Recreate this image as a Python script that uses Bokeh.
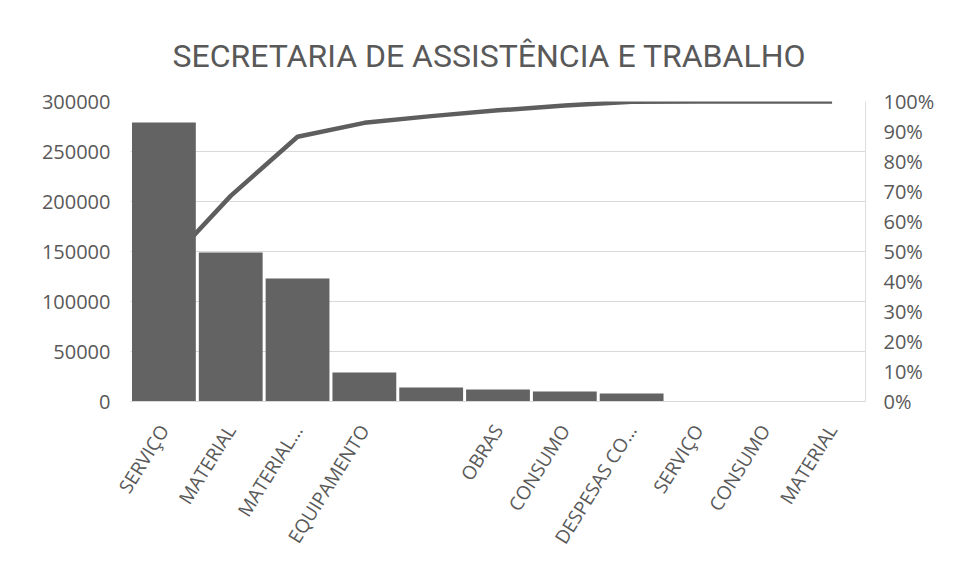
import math
from bokeh.plotting import figure
from bokeh.models import (LinearAxis, Range1d, FixedTicker, NumeralTickFormatter,
                          Title, ColumnDataSource)
from bokeh.embed import file_html
from bokeh.resources import INLINE

# ---- data ----
title_text = "SECRETARIA DE ASSISTÊNCIA E TRABALHO"
labels = ["SERVIÇO", "MATERIAL", "MATERIAL…", "EQUIPAMENTO", "", "OBRAS",
          "CONSUMO", "DESPESAS CO…", "SERVIÇO", "CONSUMO", "MATERIAL"]
values = [279000, 149000, 123000, 29000, 14000, 12000, 10000, 8000, 200, 150, 100]
left_ticks = [0, 50000, 100000, 150000, 200000, 250000, 300000]
right_ticks = [0.0, 0.1, 0.2, 0.3, 0.4, 0.5, 0.6, 0.7, 0.8, 0.9, 1.0]

positions = list(range(1, len(labels) + 1))
total = sum(values)
cum = []
running = 0
for v in values:
    running += v
    cum.append(running / total)

src = ColumnDataSource(dict(x=positions, v=values, c=cum))

TEXT = "#595959"
FONT = "Open Sans"

p = figure(width=947, height=570, output_backend="svg", toolbar_location=None,
           x_range=Range1d(0.5, len(labels) + 0.5), y_range=Range1d(0, 300000),
           min_border_left=130, min_border_right=82, min_border_top=101,
           min_border_bottom=169)
p.extra_y_ranges = {"pct": Range1d(0, 1)}
p.outline_line_color = None
p.background_fill_color = "white"
p.border_fill_color = "white"

# cumulative line (behind bars)
p.line("x", "c", source=src, y_range_name="pct", line_width=4.5, line_color="#5e5e5e")
# bars
p.vbar(x="x", top="v", width=0.955, source=src, fill_color="#636363", line_color=None)

# x axis
xa = p.xaxis[0]
xa.ticker = FixedTicker(ticks=positions)
xa.major_label_overrides = {pos: lab for pos, lab in zip(positions, labels)}
xa.major_label_orientation = math.radians(58)
xa.major_label_text_font = FONT
xa.major_label_text_font_size = "19px"
xa.major_label_text_color = TEXT
xa.major_tick_line_color = None
xa.minor_tick_line_color = None
xa.axis_line_color = "#d9d9d9"
xa.major_label_standoff = 19

# left axis
ya = p.yaxis[0]
ya.ticker = FixedTicker(ticks=left_ticks)
ya.formatter = NumeralTickFormatter(format="0")
ya.major_label_text_font = FONT
ya.major_label_text_font_size = "20px"
ya.major_label_text_color = TEXT
ya.major_tick_line_color = None
ya.minor_tick_line_color = None
ya.axis_line_color = None
ya.major_label_standoff = 14

# right axis
ra = LinearAxis(y_range_name="pct", ticker=FixedTicker(ticks=right_ticks),
                formatter=NumeralTickFormatter(format="0%"))
ra.major_label_text_font = FONT
ra.major_label_text_font_size = "20px"
ra.major_label_text_color = TEXT
ra.major_tick_line_color = None
ra.minor_tick_line_color = None
ra.axis_line_color = "#dcdcdc"
ra.major_label_standoff = 12
p.add_layout(ra, "right")

p.ygrid.ticker = FixedTicker(ticks=left_ticks)
p.ygrid.grid_line_color = "#d9d9d9"
p.xgrid.grid_line_color = None

t = Title(text=title_text, align="left", offset=42, standoff=54,
          text_font="Roboto", text_font_size="32px",
          text_font_style="normal", text_color=TEXT)
p.add_layout(t, "above")

open("out.html", "w").write(file_html(p, INLINE))
